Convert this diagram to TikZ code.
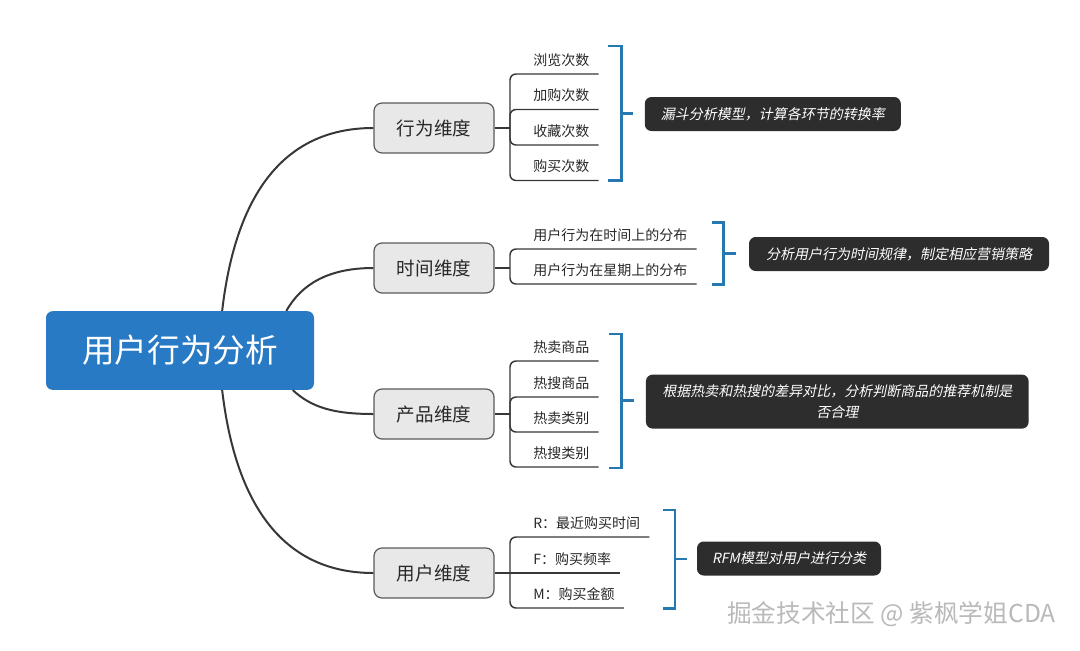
\documentclass[tikz,border=0pt]{standalone}
\usepackage{fontspec}
\setmainfont{Noto Sans CJK SC}
\newfontfamily\cjkit{Noto Sans CJK SC}[FakeSlant=0.2]
\usetikzlibrary{calc}
\definecolor{rootblue}{RGB}{40,122,196}
\definecolor{dimfill}{RGB}{232,232,232}
\definecolor{dimdraw}{RGB}{90,90,90}
\definecolor{linedark}{RGB}{55,55,55}
\definecolor{textdark}{RGB}{40,40,40}
\definecolor{notefill}{RGB}{45,45,45}
\definecolor{braceblue}{RGB}{38,120,176}
\definecolor{wmgray}{RGB}{185,185,185}
\begin{document}
\begin{tikzpicture}[x=0.75pt,y=-0.75pt,
  rootbox/.style={rectangle, rounded corners=5pt, fill=rootblue, text=white, minimum width=201pt, minimum height=59pt, inner sep=0pt, font=\fontsize{24.5pt}{28pt}\selectfont},
  dimbox/.style={rectangle, rounded corners=6pt, fill=dimfill, draw=dimdraw, line width=0.9pt, minimum width=90pt, minimum height=37.5pt, inner sep=0pt, text=textdark, font=\fontsize{13.9pt}{16pt}\selectfont},
  leafnode/.style={anchor=south west, inner xsep=6.75pt, inner ysep=5.1pt, text height=8.5pt, text depth=1.3pt, text=textdark, font=\fontsize{10.5pt}{13pt}\selectfont},
  notebox/.style={rectangle, rounded corners=5pt, fill=notefill, text=white, minimum height=25.5pt, inner xsep=0pt, inner ysep=3pt, align=center, font=\cjkit\fontsize{10.5pt}{16.3pt}\selectfont},
  trunk/.style={draw=linedark, line width=1.5pt},
  twig/.style={draw=linedark, line width=1.1pt, rounded corners=4.5pt},
  bracebar/.style={draw=braceblue, line width=2.2pt}
]
\useasboundingbox (0,0) rectangle (1080,650);

% root
\node[rootbox] (root) at (180,350.5) {用户行为分析};

% dimensions
\node[dimbox] (b1) at (434,128) {行为维度};
\node[dimbox] (b2) at (434,268) {时间维度};
\node[dimbox] (b3) at (434,414) {产品维度};
\node[dimbox] (b4) at (434,573) {用户维度};

% trunk curves
\draw[trunk] ($(root.north west)!0.657!(root.north east)$) .. controls (235,200) and (280,128) .. (b1.west);
\draw[trunk] ($(root.north west)!0.896!(root.north east)$) .. controls (302,283) and (330,268) .. (b2.west);
\draw[trunk] ($(root.south west)!0.92!(root.south east)$) .. controls (312,408) and (335,414) .. (b3.west);
\draw[trunk] ($(root.south west)!0.657!(root.south east)$) .. controls (235,500) and (280,573) .. (b4.west);

% spine points
\coordinate (s1) at (510,128);
\coordinate (s2) at (510,268);
\coordinate (s3) at (510,414);
\coordinate (s4) at (510,573);
\draw[twig] (b1.east) -- (s1);
\draw[twig] (b2.east) -- (s2);
\draw[twig] (b3.east) -- (s3);

% leaves: behaviour
\node[leafnode] (l11) at (524,74) {浏览次数};
\node[leafnode] (l12) at (524,109.5) {加购次数};
\node[leafnode] (l13) at (524,145) {收藏次数};
\node[leafnode] (l14) at (524,180.5) {购买次数};
\draw[twig] (s1) |- (l11.south east);
\draw[twig] (s1) |- (l12.south east);
\draw[twig] (s1) |- (l13.south east);
\draw[twig] (s1) |- (l14.south east);

% leaves: time
\node[leafnode] (l21) at (524,249) {用户行为在时间上的分布};
\node[leafnode] (l22) at (524,284) {用户行为在星期上的分布};
\draw[twig] (s2) |- (l21.south east);
\draw[twig] (s2) |- (l22.south east);

% leaves: product
\node[leafnode] (l31) at (524,361) {热卖商品};
\node[leafnode] (l32) at (524,397) {热搜商品};
\node[leafnode] (l33) at (524,432) {热卖类别};
\node[leafnode] (l34) at (524,467) {热搜类别};
\draw[twig] (s3) |- (l31.south east);
\draw[twig] (s3) |- (l32.south east);
\draw[twig] (s3) |- (l33.south east);
\draw[twig] (s3) |- (l34.south east);

% leaves: user
\node[leafnode] (l41) at (524,537) {R：最近购买时间};
\node[leafnode] (l42) at (524,573) {F：购买频率};
\node[leafnode] (l43) at (524,608) {M：购买金额};
\draw[twig] (s4) |- (l41.south east);
\draw[twig] (b4.east) -- (l42.south east);
\draw[twig] (s4) |- (l43.south east);

% summary notes
\node[notebox, minimum width=192pt] (n1) at (772.8,114) {漏斗分析模型，计算各环节的转换率};
\node[notebox, minimum width=225pt] (n2) at (899,254) {分析用户行为时间规律，制定相应营销策略};
\node[notebox, minimum width=287pt, minimum height=40.5pt] (n3) at (837.3,401.6) {根据热卖和热搜的差异对比，分析判断商品的推荐机制是\\否合理};
\node[notebox, minimum width=138pt] (n4) at (789,558.5) {RFM模型对用户进行分类};

% brackets
\coordinate (k1t) at (608,46);    \coordinate (k1m) at (621.5,113.5); \coordinate (k1b) at (608,180.7);
\coordinate (k2t) at (711.7,222.4); \coordinate (k2m) at (723.8,253.5); \coordinate (k2b) at (711.7,284.6);
\coordinate (k3t) at (608.6,334); \coordinate (k3m) at (621.7,400.4); \coordinate (k3b) at (608.6,468);
\coordinate (k4t) at (663,510);   \coordinate (k4m) at (675,559);     \coordinate (k4b) at (663,608.5);
\draw[bracebar] (k1t) -| (k1m) |- (k1b);
\draw[bracebar] (k1m) -- ++(11.5,0);
\draw[bracebar] (k2t) -| (k2m) |- (k2b);
\draw[bracebar] (k2m) -- ++(12,0);
\draw[bracebar] (k3t) -| (k3m) |- (k3b);
\draw[bracebar] (k3m) -- ++(12,0);
\draw[bracebar] (k4t) -| (k4m) |- (k4b);
\draw[bracebar] (k4m) -- ++(11.5,0);

% watermark
\node[anchor=west, inner sep=0pt, text=wmgray, font=\fontsize{18.5pt}{21pt}\selectfont] (wm) at (727,614) {掘金技术社区 @ 紫枫学姐CDA};
\end{tikzpicture}
\end{document}
